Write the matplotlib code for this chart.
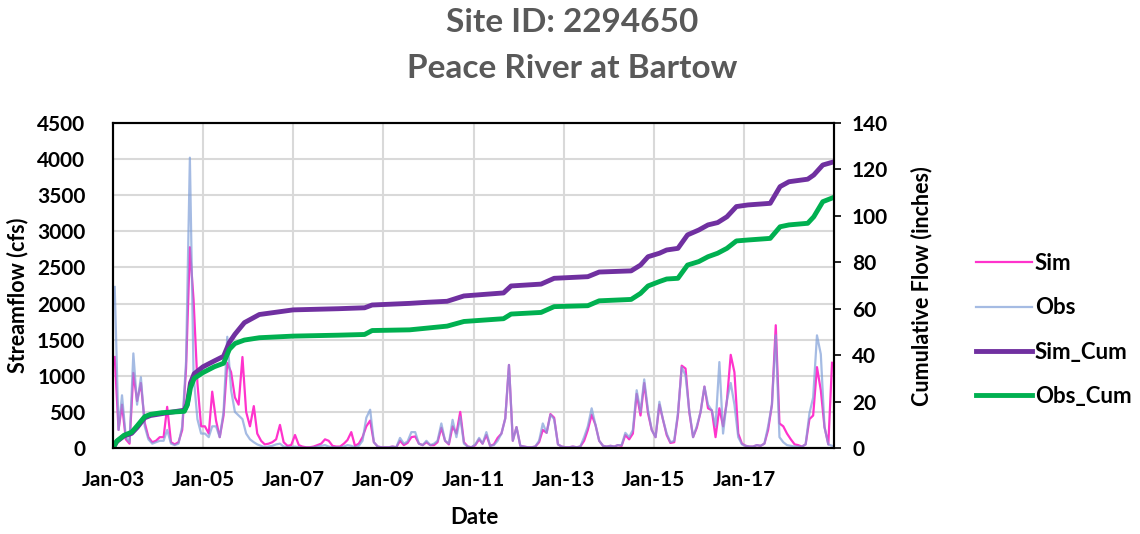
import matplotlib
matplotlib.use('Agg')
import matplotlib.pyplot as plt
import pandas as pd

# monthly streamflow (cfs), one row per year 2003..2018
sim_flow = [
    1260, 250, 600, 120, 60, 1040, 650, 900, 350, 150, 80, 100,
    150, 150, 570, 80, 50, 80, 250, 1100, 2780, 2050, 900, 300,
    300, 200, 780, 380, 150, 450, 1180, 1050, 700, 600, 1260, 500,
    300, 580, 200, 100, 50, 60, 80, 120, 320, 80, 30, 40,
    180, 40, 20, 10, 10, 20, 40, 60, 120, 100, 30, 20,
    20, 60, 110, 220, 30, 60, 150, 300, 380, 80, 20, 10,
    10, 10, 20, 10, 100, 40, 70, 150, 160, 60, 40, 80,
    40, 40, 80, 280, 100, 50, 300, 200, 500, 80, 20, 10,
    40, 120, 60, 180, 30, 50, 140, 200, 410, 1150, 100, 290,
    30, 20, 10, 10, 20, 80, 250, 210, 470, 420, 50, 20,
    10, 10, 20, 10, 20, 100, 250, 460, 320, 100, 30, 20,
    30, 20, 40, 30, 180, 120, 200, 750, 450, 900, 480, 250,
    150, 600, 400, 180, 70, 80, 450, 1140, 1100, 500, 150, 280,
    500, 850, 550, 520, 150, 550, 300, 650, 1290, 1050, 200, 60,
    30, 20, 20, 40, 30, 60, 250, 600, 1700, 340, 300, 200,
    120, 50, 40, 20, 50, 400, 450, 1120, 800, 290, 50, 1180,
]
obs_flow = [
    2230, 250, 730, 150, 80, 1310, 600, 980, 300, 120, 60, 80,
    100, 100, 250, 60, 40, 60, 300, 1200, 4020, 1000, 400, 200,
    200, 150, 300, 300, 150, 500, 1540, 800, 500, 450, 400, 200,
    120, 80, 50, 30, 10, 20, 30, 50, 60, 20, 10, 10,
    20, 10, 5, 5, 5, 10, 20, 30, 40, 20, 10, 10,
    10, 20, 40, 30, 10, 30, 100, 420, 530, 80, 20, 10,
    10, 10, 20, 10, 140, 60, 90, 220, 220, 60, 40, 100,
    40, 60, 100, 340, 100, 60, 390, 150, 430, 60, 20, 10,
    50, 140, 60, 220, 30, 40, 100, 200, 410, 1150, 100, 290,
    30, 20, 10, 10, 20, 100, 340, 210, 460, 400, 50, 20,
    10, 10, 20, 10, 20, 150, 300, 550, 320, 100, 30, 20,
    30, 20, 40, 40, 210, 150, 250, 800, 500, 950, 520, 250,
    150, 640, 400, 200, 80, 100, 480, 1120, 1000, 520, 150, 300,
    500, 850, 600, 520, 300, 1190, 200, 660, 900, 600, 150, 50,
    30, 20, 20, 40, 30, 60, 300, 600, 1560, 150, 80, 40,
    30, 20, 20, 20, 50, 480, 700, 1560, 1300, 290, 50, 30,
]

# cumulative flow (inches)
cum_dates = [
    '2003-01-01', '2003-02-01', '2003-04-01', '2003-06-01', '2003-07-15',
    '2003-09-15', '2003-11-01', '2004-02-01', '2004-08-01', '2004-08-25',
    '2004-09-20', '2004-10-20', '2004-12-31', '2005-04-01', '2005-06-15',
    '2005-08-01', '2005-09-15', '2005-12-01', '2006-04-01', '2006-12-31',
    '2007-12-31', '2008-08-01', '2008-10-01', '2009-08-01', '2009-12-31',
    '2010-06-01', '2010-10-15', '2011-09-01', '2011-11-01', '2012-07-01',
    '2012-10-15', '2013-07-15', '2013-10-15', '2014-07-01', '2014-09-15',
    '2014-11-15', '2015-02-15', '2015-04-15', '2015-07-15', '2015-10-01',
    '2015-12-31', '2016-03-15', '2016-06-01', '2016-08-15', '2016-10-31',
    '2017-02-01', '2017-08-01', '2017-10-20', '2017-12-31', '2018-06-01',
    '2018-07-20', '2018-10-01', '2018-12-31',
]
sim_cum = [
    0, 2.8, 5.2, 6.3, 8.8, 13.0, 14.0, 14.8, 16.3, 19.0,
    28.0, 32.0, 35.0, 37.5, 39.5, 45.5, 49.0, 54.0, 57.5, 59.5,
    60.0, 60.4, 61.6, 62.3, 62.8, 63.2, 65.5, 66.8, 69.8, 70.6,
    73.1, 73.8, 75.8, 76.3, 78.8, 82.4, 83.9, 85.3, 86.0, 91.8,
    93.9, 96.1, 97.1, 99.6, 104.0, 104.7, 105.4, 112.6, 114.7, 115.8,
    117.6, 121.9, 123.3,
]
obs_cum = [
    0, 3.0, 5.5, 6.8, 9.5, 13.5, 14.5, 15.2, 15.8, 18.5,
    26.0, 30.0, 32.5, 35.0, 36.5, 42.5, 45.0, 46.5, 47.5, 48.2,
    48.6, 48.9, 50.6, 50.9, 51.7, 52.5, 54.5, 55.7, 57.7, 58.4,
    60.9, 61.3, 63.4, 64.0, 66.6, 69.8, 71.7, 72.8, 73.1, 78.8,
    80.3, 82.4, 83.9, 86.0, 89.2, 89.6, 90.3, 95.3, 96.1, 96.8,
    99.6, 106.1, 108.0,
]

tick_dates = ['2003-01-01', '2005-01-01', '2007-01-01', '2009-01-01',
              '2011-01-01', '2013-01-01', '2015-01-01', '2017-01-01']
tick_labels = ['Jan-03', 'Jan-05', 'Jan-07', 'Jan-09',
               'Jan-11', 'Jan-13', 'Jan-15', 'Jan-17']

plt.rcParams['font.family'] = ['Lato', 'DejaVu Sans']
plt.rcParams['font.weight'] = 'bold'

months = pd.date_range('2003-01-01', '2018-12-01', freq='MS') + pd.Timedelta(days=14)

W, H = 1140, 534
fig = plt.figure(figsize=(W / 100, H / 100), dpi=100)
ax1 = fig.add_axes([113 / W, 1 - 448 / H, 721 / W, 325 / H])
ax2 = ax1.twinx()

l1, = ax1.plot(months, sim_flow, color='#FF33CC', lw=1.6, label='Sim')
l2, = ax1.plot(months, obs_flow, color='#7F9FD8', lw=1.6, alpha=0.7, label='Obs')
cd = pd.to_datetime(cum_dates)
l3, = ax2.plot(cd, sim_cum, color='#7030A0', lw=3.5, label='Sim_Cum')
l4, = ax2.plot(cd, obs_cum, color='#00B050', lw=3.5, label='Obs_Cum')

ax1.set_xlim(pd.Timestamp('2003-01-01'), pd.Timestamp('2018-12-31'))
ax1.set_ylim(0, 4500)
ax2.set_ylim(0, 140)
ax1.set_yticks(range(0, 4501, 500))
ax2.set_yticks(range(0, 141, 20))
ax1.set_xticks(pd.to_datetime(tick_dates))
ax1.set_xticklabels(tick_labels)

ax1.grid(color='#D9D9D9', lw=1.5)
ax1.set_axisbelow(True)
for ax in (ax1, ax2):
    for s in ax.spines.values():
        s.set_color('black')
        s.set_linewidth(1.5)

ax1.tick_params(axis='y', length=0, pad=20, labelsize=15)
ax1.tick_params(axis='x', length=0, pad=16, labelsize=15)
ax2.tick_params(axis='y', length=5, width=1.2, pad=8, labelsize=15)

fig.text(572 / W, 1 - 22 / H, 'Site ID: 2294650', ha='center', va='center',
         fontsize=24, color='#595959')
fig.text(572 / W, 1 - 68 / H, 'Peace River at Bartow', ha='center', va='center',
         fontsize=24, color='#595959')
fig.text(474 / W, 1 - 518 / H, 'Date', ha='center', va='center', fontsize=16)
fig.text(18 / W, 1 - 295 / H, 'Streamflow (cfs)', ha='center', va='center',
         rotation=90, fontsize=15.5)
fig.text(922 / W, 1 - 286 / H, 'Cumulative Flow (inches)', ha='center', va='center',
         rotation=90, fontsize=15.5)

fig.legend([l1, l2, l3, l4], ['Sim', 'Obs', 'Sim_Cum', 'Obs_Cum'],
           loc='center left', bbox_to_anchor=(976 / W, 1 - 330 / H),
           frameon=False, fontsize=16, labelspacing=1.05, handlelength=2.5,
           handletextpad=0.15, borderaxespad=0, borderpad=0)

fig.savefig('out.png', dpi=100)
